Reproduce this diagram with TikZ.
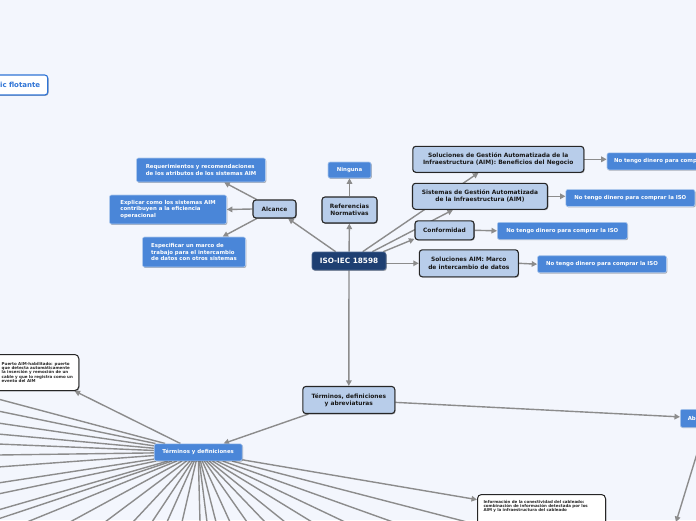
\documentclass[tikz,border=0pt]{standalone}
\usepackage{fontspec}
\setmainfont{DejaVu Sans}
\usetikzlibrary{arrows.meta,shadows}
\definecolor{bgc}{HTML}{F3F6FD}
\definecolor{lbc}{HTML}{B8CDEA}
\definecolor{bluec}{HTML}{4A86D8}
\definecolor{navy}{HTML}{1E3F72}
\definecolor{linec}{HTML}{8C8C8C}
\definecolor{flc}{HTML}{2F74D6}
\pgfdeclarelayer{bgfill}
\pgfdeclarelayer{bglines}
\pgfsetlayers{bgfill,bglines,main}
\tikzset{
  shad/.style={drop shadow={shadow xshift=0.8pt, shadow yshift=-0.9pt, opacity=0.3, fill=black}},
  lb/.style={draw=black!85, line width=1.1pt, fill=lbc, rounded corners=3pt,
    font=\fontsize{5.9}{7.3}\selectfont\bfseries, align=center, inner sep=0pt, text=black!90, shad},
  bl/.style={draw=white!55!bluec, line width=0.6pt, fill=bluec, rounded corners=2pt,
    text=white, font=\fontsize{5.4}{6.7}\selectfont\bfseries, inner sep=0pt, shad},
  isos/.style={fill=navy, draw=navy!80!white, line width=0.6pt, rounded corners=2.5pt, text=white,
    font=\fontsize{7.3}{8.5}\selectfont\bfseries, inner sep=0pt, shad},
  note/.style={draw=black!85, line width=1pt, fill=white, rounded corners=4pt,
    font=\fontsize{4}{4.15}\selectfont\bfseries, align=left, inner sep=0pt, text=black!85, shad},
  flt/.style={draw=flc, line width=1.1pt, fill=white, rounded corners=3pt, text=flc,
    font=\fontsize{7}{8}\selectfont\bfseries, inner sep=0pt, shad},
  conn/.style={draw=linec, line width=1.4pt, -{Triangle[length=5.5pt,width=5.5pt]}},
  fan/.style={draw=linec, line width=1.4pt},
}
\begin{document}
\begin{tikzpicture}[x=1pt,y=-1pt]
\useasboundingbox (0,0) rectangle (696,520);
\clip (0,0) rectangle (696,520);
\begin{pgfonlayer}{bgfill}
\fill[bgc] (0,0) rectangle (696,520);
\end{pgfonlayer}

% floating topic (cut at the left edge)
\node[flt, minimum height=20pt, anchor=east, inner xsep=7.6pt, text width=52pt, align=right] (flo) at (48.3,85) {ic flotante};

% root
\node[isos, minimum width=74pt, minimum height=18pt] (iso) at (349,261) {ISO-IEC 18598};

% referencias
\node[lb, minimum width=55pt, minimum height=26pt] (ref) at (349.5,210) {Referencias\\Normativas};
\node[bl, minimum width=43pt, minimum height=16pt] (ning) at (349.5,170) {Ninguna};

% alcance
\node[lb, minimum width=43pt, minimum height=18pt] (alc) at (274.5,209) {Alcance};
\node[bl, minimum width=129pt, minimum height=24pt, align=left] (req) at (201,170)
  {Requerimientos y recomendaciones\\de los atributos de los sistemas AIM};
\node[bl, minimum width=117pt, minimum height=29pt, align=left] (exp) at (168,209.5)
  {Explicar como los sistemas AIM\\contribuyen a la eficiencia\\operacional};
\node[bl, minimum width=103pt, minimum height=30pt, align=left] (esp) at (194,252)
  {Especificar un marco de\\trabajo para el intercambio\\de datos con otros sistemas};

% right branches
\node[lb, minimum width=171pt, minimum height=26pt] (sol) at (498.3,159.3)
  {Soluciones de Gestión Automatizada de la\\Infraestructura (AIM): Beneficios del Negocio};
\node[bl, minimum height=17pt, anchor=west, inner xsep=7pt, text width=115pt, align=left] (nt1) at (606.7,161.3) {No tengo dinero para comp};
\node[lb, minimum width=135pt, minimum height=26pt] (sis) at (480,196.3)
  {Sistemas de Gestión Automatizada\\de la Infraestructura (AIM)};
\node[bl, minimum width=129pt, minimum height=17pt] (nt2) at (630.3,198) {No tengo dinero para comprar la ISO};
\node[lb, minimum width=59pt, minimum height=19pt] (conf) at (444.5,230.3) {Conformidad};
\node[bl, minimum width=130pt, minimum height=17pt] (nt3) at (562.3,230.8) {No tengo dinero para comprar la ISO};
\node[lb, minimum width=99pt, minimum height=27pt] (sai) at (468.8,263.3)
  {Soluciones AIM: Marco\\de intercambio de datos};
\node[bl, minimum width=129pt, minimum height=17pt] (nt4) at (602,264.2) {No tengo dinero para comprar la ISO};

% terms
\node[lb, minimum width=92pt, minimum height=27pt] (tda) at (348.8,400)
  {Términos, definiciones\\y abreviaturas};
\node[bl, minimum width=88pt, minimum height=17pt] (td) at (198.2,452.3) {Términos y definiciones};
\node[bl, minimum height=18pt, anchor=west, inner xsep=7.5pt, text width=40pt, align=left] (ab) at (680,418.3) {Ab};

\node[note, minimum width=83pt, minimum height=36pt, anchor=north east, inner xsep=5pt] (pue) at (79.3,354)
  {Puerto AIM-habilitado: puerto\\que detecta automáticamente\\la inserción y remoción de un\\cable y que lo registra como un\\evento del AIM};
\node[note, minimum width=128pt, minimum height=32pt, anchor=north west, text width=118pt, inner xsep=0pt] (inf) at (477,494)
  {\hspace*{1pt}\parbox[t]{118pt}{\vspace*{-9pt}Información de la conectividad del cableado:\\combinación de información detectada por los\\AIM y la infraestructura del cableado}};

\coordinate (abc) at (676,522);

\begin{pgfonlayer}{bglines}
\draw[conn] (iso) -- (ref);
\draw[conn] (ref) -- (ning);
\draw[conn] (iso) -- (alc);
\draw[conn] (alc) -- (req);
\draw[conn] (alc.west) -- (exp.east);
\draw[conn] (alc) -- (esp);
\draw[conn] (iso) -- (sol);
\draw[conn] ([xshift=-14pt]iso.north east) -- ([xshift=41pt]sis.south west);
\draw[conn] ([xshift=-3pt]iso.north east) -- ([yshift=1.5pt]conf.south west);
\draw[conn] (iso.east |- sai.west) -- (sai.west);
\draw[conn] (sol.east) -- (sol.east -| nt1.west);
\draw[conn] (sis.east) -- (sis.east -| nt2.west);
\draw[conn] (conf.east) -- (nt3.west);
\draw[conn] (sai.east) -- (nt4.west);
\draw[conn] (iso) -- (tda);
\draw[conn] (tda) -- (td);
\draw[conn] (tda) -- (ab);
\draw[conn] ([xshift=25pt]ab.south west) -- (abc);
\draw[conn] (td) -- (pue);
\draw[conn] (td) -- (inf);
\foreach \yy [count=\i] in {399,411,423,434,444,455,467,483,494,510,519}{
  \coordinate (fl\i) at (-2,\yy);
  \draw[fan] (td) -- (fl\i);
}
\foreach \xx [count=\i] in {27,70,105,133,152,167,182,200,207,216,230,247,265,285,312,345,393,467}{
  \coordinate (fb\i) at (\xx,522);
  \draw[fan] (td) -- (fb\i);
}
\end{pgfonlayer}
\end{tikzpicture}
\end{document}
